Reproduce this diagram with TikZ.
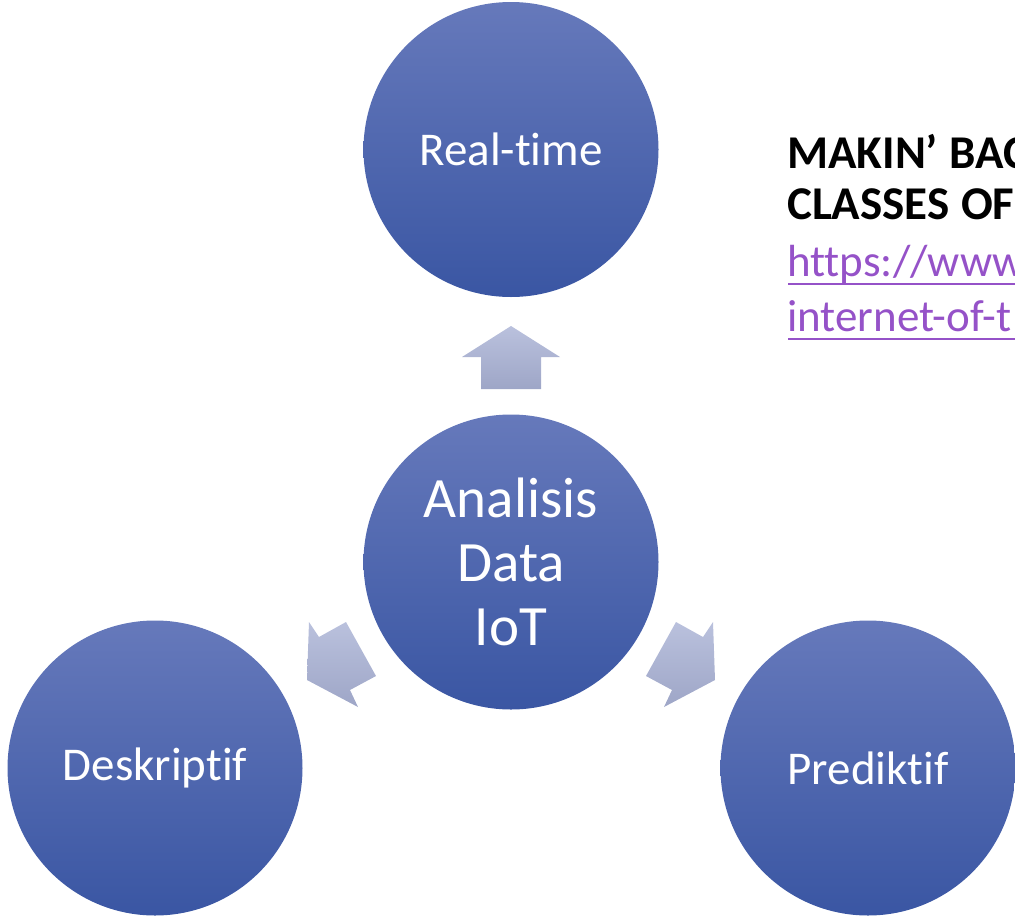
\documentclass[tikz,border=0pt]{standalone}
\usepackage{fontspec}
\setmainfont{Carlito}[Ligatures={NoCommon,NoRare,NoDiscretionary,NoContextual}]
\definecolor{circtop}{RGB}{102,121,187}
\definecolor{circbot}{RGB}{58,86,163}
\definecolor{arrtop}{RGB}{186,193,221}
\definecolor{arrbot}{RGB}{158,166,199}
\definecolor{linkcol}{RGB}{149,82,200}
\tikzset{
  bubble/.style={circle, minimum size=295pt, inner sep=0pt, top color=circtop, bottom color=circbot, text=white, font=\fontsize{47}{56}\selectfont},
  blockarrow/.style={top color=arrtop, bottom color=arrbot, draw=none},
  linkline/.style={draw=linkcol, line width=2.5pt}
}
\begin{document}
\begin{tikzpicture}[x=1pt,y=-1pt]
\useasboundingbox (0,0) rectangle (1015,916);
\clip (0,0) rectangle (1015,916);
\node[bubble] (rt) at (511,149.5) {Real-time};
\node[bubble, font=\fontsize{57}{64}\selectfont, align=center] (core) at (511,562) {Analisis\\Data\\IoT};
\node[bubble] (desk) at (155,768) {Deskriptif};
\node[bubble] (pred) at (868,768) {Prediktif};
\path[blockarrow] (511,326) -- (560,357) -- (541,357) -- (541,389) -- (481,389) -- (481,357) -- (462,357) -- cycle;
\path[blockarrow] (307,680) -- (309,622) -- (319,637) -- (346,622) -- (376,676) -- (350,690) -- (358,707) -- cycle;
\path[blockarrow] (715,680) -- (713,622) -- (703,637) -- (676,622) -- (646,676) -- (672,690) -- (664,707) -- cycle;
\node[anchor=base west, align=left, inner sep=0pt, font=\bfseries\fontsize{47}{51}\selectfont] (title) at (787,219) {MAKIN’ \kern1pt BACK\\CLASSES \kern1pt OF};
\node[anchor=base west, align=left, inner sep=0pt, text=linkcol, font=\fontsize{45}{55}\selectfont] (link) at (787,331) {https://www.\\internet-of-t};
\path[linkline] (788,284) -- (1015,284);
\path[linkline] (788,339) -- (1015,339);
\end{tikzpicture}
\end{document}
